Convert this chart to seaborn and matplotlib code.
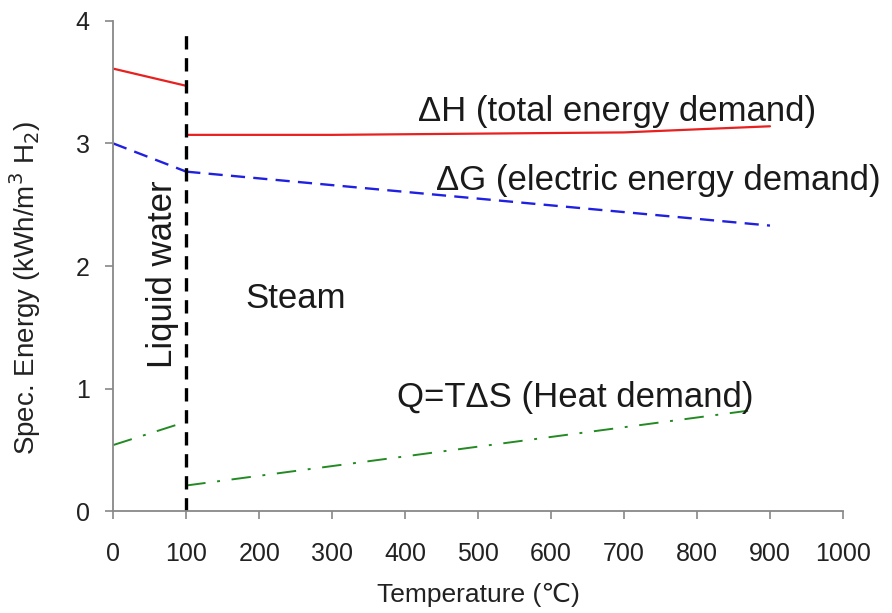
import matplotlib
matplotlib.use("Agg")
import matplotlib.pyplot as plt
import seaborn as sns

# Data
temp_liquid = [0, 100]
dh_liquid = [3.61, 3.47]
dg_liquid = [3.00, 2.77]
q_liquid = [0.54, 0.73]

temp_steam = [100, 300, 500, 700, 900]
dh_steam = [3.07, 3.07, 3.08, 3.09, 3.14]
dg_steam = [2.77, 2.66, 2.55, 2.44, 2.33]
temp_q_steam = [100, 870]
q_steam = [0.21, 0.82]

boundary_x = [100, 100]
boundary_y = [0, 3.95]

x_ticks = list(range(0, 1001, 100))
y_ticks = [0, 1, 2, 3, 4]

sns.set_style("ticks")
plt.rcParams["font.family"] = ["Liberation Sans", "DejaVu Sans"]

fig = plt.figure(figsize=(8.92, 6.13), dpi=100)
ax = fig.add_axes([0.127, 0.166, 0.818, 0.800])

red = "#e82020"
blue = "#2020e0"
green = "#238a23"
dash_g = (0, (6, 3.5))
dash_q = (0, (10, 6, 1.5, 6))

# Delta H
sns.lineplot(x=temp_liquid, y=dh_liquid, color=red, lw=1.6, ax=ax, estimator=None)
sns.lineplot(x=temp_steam, y=dh_steam, color=red, lw=1.6, ax=ax, estimator=None)
# Delta G
sns.lineplot(x=temp_liquid, y=dg_liquid, color=blue, lw=1.7, ax=ax, estimator=None, linestyle=dash_g)
sns.lineplot(x=temp_steam, y=dg_steam, color=blue, lw=1.7, ax=ax, estimator=None, linestyle=dash_g)
# Q = T dS
sns.lineplot(x=temp_liquid, y=q_liquid, color=green, lw=1.4, ax=ax, estimator=None, linestyle=dash_q)
sns.lineplot(x=temp_q_steam, y=q_steam, color=green, lw=1.4, ax=ax, estimator=None, linestyle=dash_q)
# phase boundary
sns.lineplot(x=boundary_x, y=boundary_y, color="black", lw=2.4, ax=ax,
             estimator=None, sort=False, linestyle=(0, (4, 2.6)))

ax.set_xlim(0, 1000)
ax.set_ylim(0, 4)
ax.set_xticks(x_ticks)
ax.set_yticks(y_ticks)
ax.tick_params(axis="both", labelsize=18, colors="#222222", length=6, width=1.2)
ax.tick_params(axis="both", color="#888888")
ax.tick_params(axis="x", pad=16)
ax.tick_params(axis="y", pad=11)
for side in ["left", "bottom"]:
    ax.spines[side].set_color("#888888")
    ax.spines[side].set_linewidth(1.3)
sns.despine(ax=ax)

ax.set_xlabel("Temperature (℃)", fontsize=19, color="#222222", labelpad=12)
ax.set_ylabel("Spec. Energy (kWh/m$^3$ H$_2$)", fontsize=20, color="#222222")
ax.yaxis.set_label_coords(-0.097, 0.455)

txt = dict(fontsize=25, color="#1a1a1a", va="baseline", ha="left")
ax.text(418, 3.18, "ΔH (total energy demand)", **txt)
ax.text(442, 2.62, "ΔG (electric energy demand)", **txt)
ax.text(389, 0.85, "Q=TΔS (Heat demand)", **txt)
ax.text(181, 1.66, "Steam", **txt)
ax.text(67, 1.93, "Liquid water", fontsize=25, color="#1a1a1a", va="center", ha="center", rotation=90)

fig.savefig("out.png", dpi=100)
